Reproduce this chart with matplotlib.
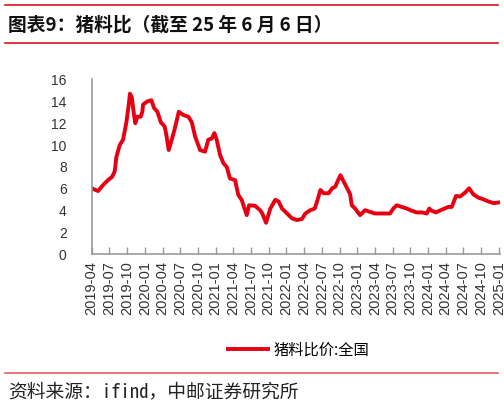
import matplotlib
matplotlib.use("Agg")
import matplotlib.pyplot as plt
from matplotlib.lines import Line2D

# quarter index (0 = 2019-04 tick) and pig-feed ratio values
q = [0, 0.36, 0.64, 0.92, 1.15, 1.3, 1.39, 1.58, 1.77, 1.96, 2.09, 2.16, 2.26, 2.39, 2.46,
     2.58, 2.77, 2.86, 2.9, 3.14, 3.37, 3.52, 3.71, 3.9, 4.12, 4.22, 4.35, 4.54, 4.69, 4.92,
     5.18, 5.46, 5.65, 5.84, 6.12, 6.4, 6.59, 6.78, 6.93, 7.06, 7.25, 7.44, 7.63, 7.81,
     8.1, 8.28, 8.47, 8.76, 8.89, 9.23, 9.51, 9.62, 9.75, 9.85, 10.09, 10.37, 10.56, 10.75,
     10.94, 11.13, 11.32, 11.6, 11.88, 12.07, 12.35, 12.6, 12.73, 12.92, 13.1, 13.39, 13.58,
     13.76, 13.92, 14.05, 14.24, 14.48, 14.6, 14.69, 14.88, 15.16, 15.44, 15.72, 16.0, 16.47,
     16.85, 17.04, 17.23, 17.51, 17.8, 18.08, 18.36, 18.64, 18.93, 19.07, 19.2, 19.45, 19.72,
     20.15, 20.34, 20.58, 20.81, 21.09, 21.32, 21.56, 21.84, 22.12, 22.41, 22.69, 22.97]
ratio = [6.05, 5.8, 6.35, 6.8, 7.1, 7.6, 8.9, 10.0, 10.5, 12.1, 13.7, 14.7, 14.4, 12.75, 12.0,
         12.6, 12.6, 13.05, 13.7, 14.0, 14.1, 13.4, 13.05, 12.1, 11.7, 10.9, 9.55, 10.6, 11.5, 13.05,
         12.75, 12.6, 12.1, 10.8, 9.55, 9.4, 10.5, 10.6, 11.1, 10.5, 9.1, 8.35, 8.0, 6.95,
         6.8, 5.45, 5.0, 3.6, 4.5, 4.45, 4.05, 3.8, 3.3, 2.9, 4.2, 5.0, 4.85, 4.2,
         3.9, 3.6, 3.3, 3.15, 3.25, 3.75, 4.05, 4.2, 4.85, 5.9, 5.6, 5.6, 6.05,
         6.2, 6.8, 7.25, 6.65, 5.9, 5.5, 4.5, 4.2, 3.6, 4.05, 3.9, 3.75, 3.75,
         3.75, 4.2, 4.5, 4.35, 4.2, 4.0, 3.85, 3.85, 3.75, 4.2, 4.0, 3.85, 4.05,
         4.35, 4.35, 5.35, 5.3, 5.65, 6.05, 5.5, 5.2, 5.05, 4.85, 4.7, 4.75]
tick_labels = ["2019-04", "2019-07", "2019-10", "2020-01", "2020-04", "2020-07", "2020-10",
               "2021-01", "2021-04", "2021-07", "2021-10", "2022-01", "2022-04", "2022-07",
               "2022-10", "2023-01", "2023-04", "2023-07", "2023-10", "2024-01", "2024-04",
               "2024-07", "2024-10", "2025-01"]
yticks = [0, 2, 4, 6, 8, 10, 12, 14, 16]
series_name = "猪料比价:全国"
title = "图表9：猪料比（截至 25 年 6 月 6 日）"
source = "资料来源：ifind，中邮证券研究所"

CJK = ["Noto Sans CJK SC", "DejaVu Sans"]
CJK_MONO = ["Noto Sans Mono CJK SC", "Noto Sans CJK SC", "DejaVu Sans"]
RED = "#e60012"
GRAY = "#999999"

fig = plt.figure(figsize=(5.04, 4.07), dpi=100)
ax = fig.add_axes([0.182, 0.3747, 0.8095, 0.43])

ax.plot(q, ratio, color=RED, lw=2.8, solid_joinstyle="round", label=series_name)
ax.set_xlim(0, 23.05)
ax.set_ylim(0, 16)
ax.set_yticks(yticks)
ax.set_yticklabels([str(v) for v in yticks], fontsize=10, color="#333333",
                   family=["Liberation Sans", "DejaVu Sans"])
ax.set_xticks(range(len(tick_labels)))
ax.set_xticklabels(tick_labels, rotation=90, fontsize=10.5, color="#333333",
                   family=["Liberation Sans", "DejaVu Sans"])
ax.tick_params(axis="x", direction="in", length=5, color=GRAY, width=1, pad=5)
ax.tick_params(axis="y", length=0, pad=18)
for s in ["top", "right"]:
    ax.spines[s].set_visible(False)
for s in ["left", "bottom"]:
    ax.spines[s].set_color(GRAY)
    ax.spines[s].set_linewidth(1.2)

# header
fig.add_artist(Line2D([0.01, 0.988], [0.9877, 0.9877], color="#d9141c", lw=1.2))
fig.add_artist(Line2D([0.01, 0.988], [0.8936, 0.8936], color="#d9141c", lw=1.2))
fig.text(0.016, 0.939, title, fontsize=13.5, fontweight="bold", family=CJK,
         va="center", ha="left", color="#111111")

# legend
fig.legend(loc="center", bbox_to_anchor=(0.593, 0.14), frameon=False,
           handlelength=2.6, handletextpad=0.35, prop={"family": CJK, "size": 11})

# footer
fig.add_artist(Line2D([0.01, 0.988], [0.0843, 0.0843], color="#e06060", lw=1.2))
fig.text(0.016, 0.038, source, fontsize=13.5, family=CJK_MONO, va="center", ha="left",
         color="#222222", fontweight="light")

fig.savefig("out.png", dpi=100)
